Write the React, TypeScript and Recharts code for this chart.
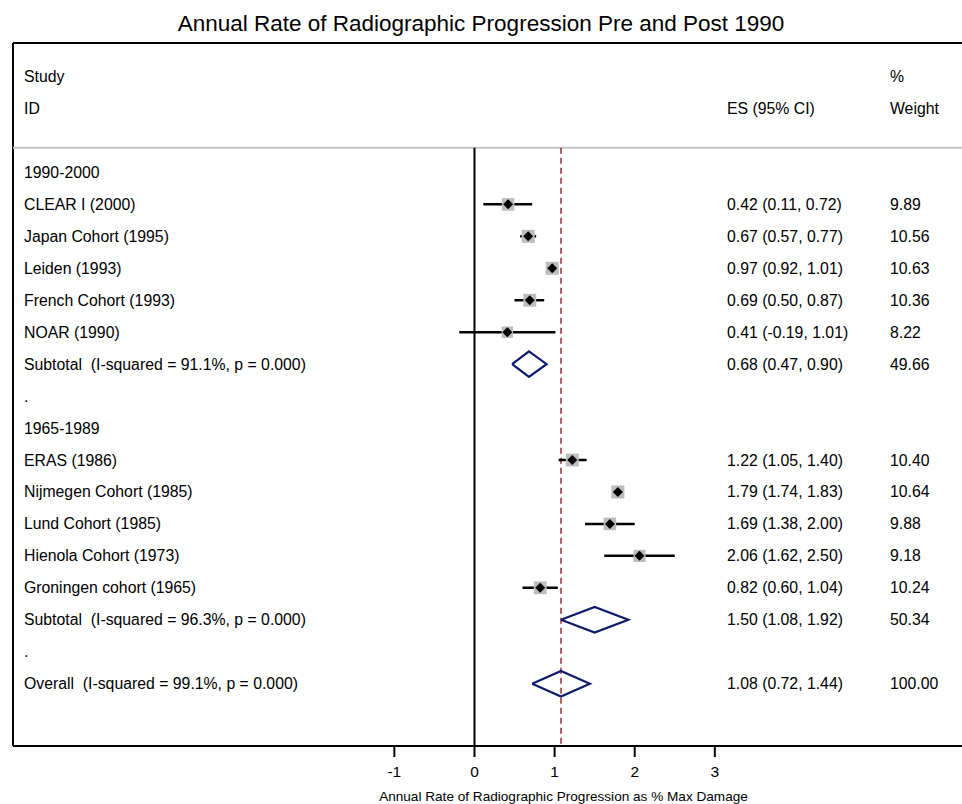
import {
  ComposedChart,
  ErrorBar,
  ReferenceLine,
  Scatter,
  XAxis,
  YAxis,
} from "recharts"

const FONT = "'Liberation Sans', Arial, Helvetica, sans-serif"

// individual studies
const studyNames = [
  "CLEAR I (2000)",
  "Japan Cohort (1995)",
  "Leiden (1993)",
  "French Cohort (1993)",
  "NOAR (1990)",
  "ERAS (1986)",
  "Nijmegen Cohort (1985)",
  "Lund Cohort (1985)",
  "Hienola Cohort (1973)",
  "Groningen cohort (1965)",
]
const studyRows = [1, 2, 3, 4, 5, 9, 10, 11, 12, 13]
const studyES = [0.42, 0.67, 0.97, 0.69, 0.41, 1.22, 1.79, 1.69, 2.06, 0.82]
const studyLow = [0.11, 0.57, 0.92, 0.5, -0.19, 1.05, 1.74, 1.38, 1.62, 0.6]
const studyHigh = [0.72, 0.77, 1.01, 0.87, 1.01, 1.4, 1.83, 2.0, 2.5, 1.04]
const studyWeight = [9.89, 10.56, 10.63, 10.36, 8.22, 10.4, 10.64, 9.88, 9.18, 10.24]

// pooled estimates (subtotals + overall)
const pooledNames = [
  "Subtotal  (I-squared = 91.1%, p = 0.000)",
  "Subtotal  (I-squared = 96.3%, p = 0.000)",
  "Overall  (I-squared = 99.1%, p = 0.000)",
]
const pooledRows = [6, 14, 16]
const pooledES = [0.68, 1.5, 1.08]
const pooledLow = [0.47, 1.08, 0.72]
const pooledHigh = [0.9, 1.92, 1.44]
const pooledWeight = [49.66, 50.34, 100.0]

// group headings and spacer rows
const groupNames = ["1990-2000", ".", "1965-1989", "."]
const groupRows = [0, 7, 8, 15]

const xTicks = [-1, 0, 1, 2, 3]
const xDomain = [-5.76, 6.085]
const yDomain = [-4.05, 17.95]
const separatorRow = -0.77

const fmt = (v: number) => v.toFixed(2)

type RowText = { label: string; es: string; weight: string }
const rowText: Record<number, RowText> = {
  [-3]: { label: "Study", es: "", weight: "%" },
  [-2]: { label: "ID", es: "ES (95% CI)", weight: "Weight" },
}
groupRows.forEach((r, i) => {
  rowText[r] = { label: groupNames[i], es: "", weight: "" }
})
studyRows.forEach((r, i) => {
  rowText[r] = {
    label: studyNames[i],
    es: `${fmt(studyES[i])} (${fmt(studyLow[i])}, ${fmt(studyHigh[i])})`,
    weight: fmt(studyWeight[i]),
  }
})
pooledRows.forEach((r, i) => {
  rowText[r] = {
    label: pooledNames[i],
    es: `${fmt(pooledES[i])} (${fmt(pooledLow[i])}, ${fmt(pooledHigh[i])})`,
    weight: fmt(pooledWeight[i]),
  }
})
const rowTicks = Object.keys(rowText)
  .map(Number)
  .sort((a, b) => a - b)

const studyData = studyRows.map((r, i) => ({
  x: studyES[i],
  y: r,
  w: studyWeight[i],
  ci: [studyES[i] - studyLow[i], studyHigh[i] - studyES[i]],
}))

// each pooled estimate is drawn as a closed diamond outline
const DIAMOND_HALF = 0.4
const diamonds = pooledRows.map((r, i) => [
  { x: pooledLow[i], y: r },
  { x: pooledES[i], y: r - DIAMOND_HALF },
  { x: pooledHigh[i], y: r },
  { x: pooledES[i], y: r + DIAMOND_HALF },
  { x: pooledLow[i], y: r },
])

const overallES = pooledES[2]

const textStyle = {
  fontFamily: FONT,
  fontSize: 15.8,
  fill: "#000",
  whiteSpace: "pre" as const,
}

function renderRowTick(props: any) {
  const { y, payload } = props
  const t = rowText[Number(payload?.value)]
  if (!t) return <g />
  return (
    <g>
      <text x={24} y={y} dominantBaseline="central" style={textStyle}>
        {t.label}
      </text>
      <text x={727} y={y} dominantBaseline="central" style={textStyle}>
        {t.es}
      </text>
      <text x={890} y={y} dominantBaseline="central" style={textStyle}>
        {t.weight}
      </text>
    </g>
  )
}

function WeightBox(props: any) {
  const { cx, cy, payload } = props
  const s = 4 * Math.sqrt(payload.w)
  return <rect x={cx - s / 2} y={cy - s / 2} width={s} height={s} fill="#bdbdbd" />
}

function PointMarker(props: any) {
  const { cx, cy } = props
  const d = 5
  return (
    <polygon
      points={`${cx - d},${cy} ${cx},${cy - d} ${cx + d},${cy} ${cx},${cy + d}`}
      fill="#000"
    />
  )
}

const NoShape = () => <g />

export default function App() {
  return (
    <div style={{ position: "absolute", top: 0, left: 0, width: 962, height: 804 }}>
      <div
        style={{
          position: "absolute",
          top: 13,
          left: 0,
          width: 962,
          textAlign: "center",
          fontFamily: FONT,
          fontSize: 22.5,
          lineHeight: "22px",
          color: "#000",
        }}
      >
        Annual Rate of Radiographic Progression Pre and Post 1990
      </div>
      <ComposedChart
        width={962}
        height={804}
        margin={{ top: 43, right: 0, bottom: 0, left: 12 }}
      >
        <XAxis
          type="number"
          dataKey="x"
          domain={xDomain}
          ticks={xTicks}
          allowDataOverflow
          height={58}
          tickSize={11}
          tickMargin={9}
          axisLine={{ stroke: "#000", strokeWidth: 2 }}
          tickLine={{ stroke: "#000", strokeWidth: 2 }}
          tick={{ fontSize: 15.5, fill: "#000", fontFamily: FONT }}
          label={{
            value: "Annual Rate of Radiographic Progression as % Max Damage",
            position: "insideBottom",
            offset: 3,
            dx: 76,
            fontSize: 13.6,
            fill: "#000",
            fontFamily: FONT,
          }}
        />
        <YAxis
          type="number"
          dataKey="y"
          domain={yDomain}
          allowDataOverflow
          reversed
          ticks={rowTicks}
          interval={0}
          width={1}
          axisLine={false}
          tickLine={false}
          tick={renderRowTick}
        />
        {/* frame and header separator */}
        <ReferenceLine y={yDomain[0]} stroke="#000" strokeWidth={2} />
        <ReferenceLine x={xDomain[0]} stroke="#000" strokeWidth={2} />
        <ReferenceLine y={separatorRow} stroke="#c4c4c4" strokeWidth={2} />
        {/* null line and overall estimate */}
        <ReferenceLine
          segment={[
            { x: 0, y: separatorRow },
            { x: 0, y: yDomain[1] },
          ]}
          stroke="#000"
          strokeWidth={2}
        />
        <ReferenceLine
          segment={[
            { x: overallES, y: separatorRow },
            { x: overallES, y: yDomain[1] },
          ]}
          stroke="#9c2c36"
          strokeWidth={1.5}
          strokeDasharray="6 4"
        />
        <Scatter data={studyData} shape={<WeightBox />} isAnimationActive={false} />
        <Scatter data={studyData} shape={<PointMarker />} isAnimationActive={false}>
          <ErrorBar dataKey="ci" direction="x" width={0} stroke="#000" strokeWidth={2.5} />
        </Scatter>
        {diamonds.map((pts, i) => (
          <Scatter
            key={i}
            data={pts}
            shape={<NoShape />}
            line={{ stroke: "#0d1a6b", strokeWidth: 2.2 }}
            lineType="joint"
            isAnimationActive={false}
          />
        ))}
      </ComposedChart>
    </div>
  )
}
